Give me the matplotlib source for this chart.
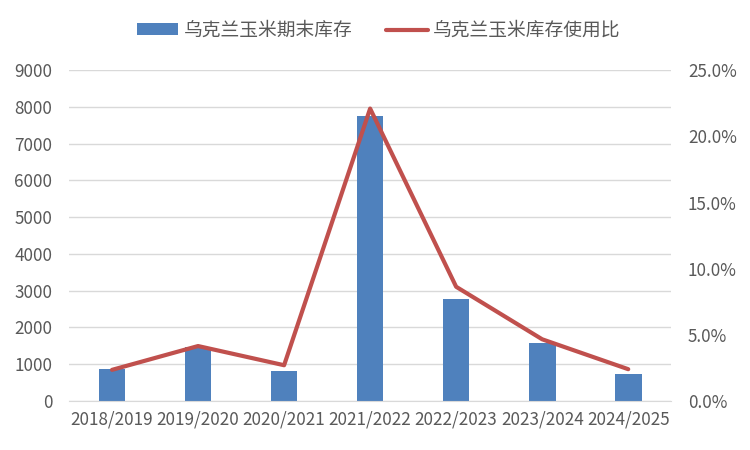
import matplotlib
matplotlib.use("Agg")
import matplotlib.pyplot as plt
from matplotlib.ticker import FuncFormatter
import numpy as np

plt.rcParams['font.family'] = ['Noto Sans CJK SC', 'DejaVu Sans']

categories = ["2018/2019", "2019/2020", "2020/2021", "2021/2022", "2022/2023", "2023/2024", "2024/2025"]
stocks = [865, 1480, 812, 7760, 2775, 1568, 730]
ratio = [2.35, 4.15, 2.70, 22.1, 8.63, 4.66, 2.40]
bar_label = "乌克兰玉米期末库存"
line_label = "乌克兰玉米库存使用比"

fig = plt.figure(figsize=(7.5, 4.5), dpi=100)
ax = fig.add_axes([0.092, 0.109, 0.803, 0.735])
ax2 = ax.twinx()

x = np.arange(len(categories))
bars = ax.bar(x, stocks, width=0.31, color="#4F81BD", label=bar_label, zorder=2)
line, = ax2.plot(x, ratio, color="#C0504D", linewidth=3, solid_capstyle="round", label=line_label, zorder=3)

ax.set_xlim(-0.5, len(categories) - 0.5)
ax.set_ylim(0, 9000)
ax.set_yticks(np.arange(0, 9001, 1000))
ax2.set_ylim(0, 25)
ax2.set_yticks(np.arange(0, 25.1, 5))
ax2.yaxis.set_major_formatter(FuncFormatter(lambda v, p: f"{v:.1f}%"))

ax.set_xticks(x)
ax.set_xticklabels(categories)

ax.grid(axis="y", color="#D9D9D9", linewidth=1, zorder=0)
ax.set_axisbelow(True)
for a in (ax, ax2):
    for s in a.spines.values():
        s.set_visible(False)
    a.tick_params(length=0, labelsize=12.3, colors="#595959")
ax.spines['bottom'].set_visible(True)
ax.spines['bottom'].set_color("#D9D9D9")
ax.tick_params(axis="x", pad=7)
ax.tick_params(axis="y", pad=12)
ax2.tick_params(axis="y", pad=12)

ax.set_zorder(ax2.get_zorder() - 1)
ax2.patch.set_visible(False)
ax.patch.set_visible(True)

fig.legend([bars, line], [bar_label, line_label], loc="center", bbox_to_anchor=(0.505, 0.933),
           ncol=2, frameon=False, fontsize=13.5, labelcolor="#595959",
           handlelength=2.2, handleheight=0.55, columnspacing=1.8, handletextpad=0.3)

fig.savefig("out.png", dpi=100)
